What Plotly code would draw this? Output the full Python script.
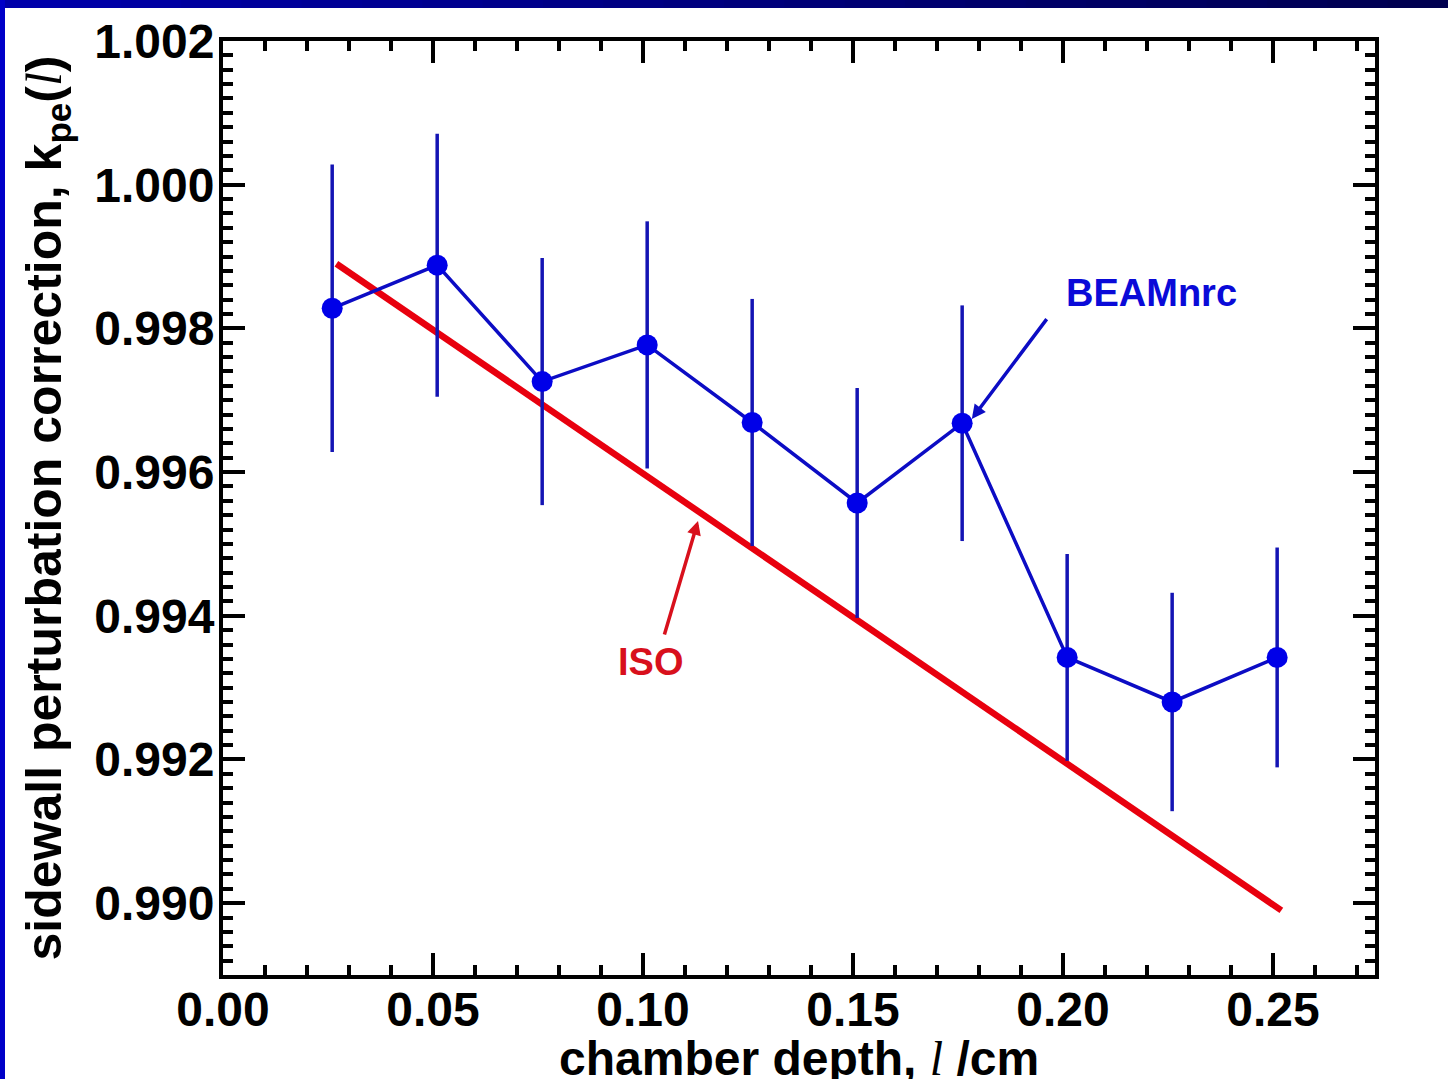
import plotly.graph_objects as go

# ---- data ----
depth_cm = [0.026, 0.051, 0.076, 0.101, 0.126, 0.151, 0.176, 0.201, 0.226, 0.251]
kpe_beamnrc = [0.99828, 0.99888, 0.99726, 0.99777, 0.99669, 0.99557, 0.99668, 0.99342, 0.99280, 0.99342]
kpe_err = [0.00200, 0.00183, 0.00172, 0.00172, 0.00172, 0.00160, 0.00164, 0.00144, 0.00152, 0.00153]

iso_depth = [0.027, 0.252]
iso_kpe = [0.99890, 0.98990]

x_tickvals = [0.00, 0.05, 0.10, 0.15, 0.20, 0.25]
x_ticktext = ["0.00", "0.05", "0.10", "0.15", "0.20", "0.25"]
y_tickvals = [0.990, 0.992, 0.994, 0.996, 0.998, 1.000, 1.002]
y_ticktext = ["0.990", "0.992", "0.994", "0.996", "0.998", "1.000", "1.002"]

W, H = 1448, 1079
ML, MR, MT, MB = 223, 73, 41, 104
PW, PH = W - ML - MR, H - MT - MB

FONT = "Liberation Sans, Arial, Helvetica, sans-serif"
ITAL_L = "<span style=\"font-family:Liberation Serif;font-style:italic;font-weight:normal\">l</span>"

fig = go.Figure()

fig.add_trace(go.Scatter(
    x=iso_depth, y=iso_kpe, mode="lines",
    line=dict(color="#e8000e", width=6.5),
    showlegend=False, hoverinfo="skip",
))

fig.add_trace(go.Scatter(
    x=depth_cm, y=kpe_beamnrc, mode="lines+markers",
    line=dict(color="#0c0cc4", width=3.5),
    marker=dict(color="#0000e8", size=21, line=dict(width=0)),
    error_y=dict(type="data", array=kpe_err, visible=True,
                 color="#1414b4", thickness=3.5, width=0),
    showlegend=False,
))

def px2x(px):
    return (px - ML) / PW

def py2y(py):
    return (H - MB - py) / PH

# slide frame: dark top band with gradient, blue left strip
n = 24
c0 = (0, 0, 170)
c1 = (0, 0, 80)
for i in range(n):
    t = i / (n - 1)
    col = "rgb(%d,%d,%d)" % tuple(round(a + (b - a) * t) for a, b in zip(c0, c1))
    fig.add_shape(type="rect", xref="paper", yref="paper",
                  x0=px2x(W * i / n), x1=px2x(W * (i + 1) / n + 1),
                  y0=py2y(8), y1=py2y(0), fillcolor=col, line=dict(width=0),
                  layer="above")
fig.add_shape(type="rect", xref="paper", yref="paper",
              x0=px2x(0), x1=px2x(5), y0=py2y(H), y1=py2y(0),
              fillcolor="rgb(0,0,200)", line=dict(width=0), layer="above")

# annotations
fig.add_annotation(x=0.2212, y=0.99849, text="<b>BEAMnrc</b>", showarrow=False,
                   font=dict(family=FONT, size=38, color="#0a0ad8"))
fig.add_annotation(x=0.1783, y=0.99674, ax=0.1964, ay=0.99815, axref="x", ayref="y",
                   text="", showarrow=True, arrowhead=2, arrowsize=0.8, arrowwidth=3.5,
                   arrowcolor="#0c0cc4")
fig.add_annotation(x=0.1019, y=0.99335, text="<b>ISO</b>", showarrow=False,
                   font=dict(family=FONT, size=38, color="#d8101c"))
fig.add_annotation(x=0.1131, y=0.99532, ax=0.1050, ay=0.99372, axref="x", ayref="y",
                   text="", showarrow=True, arrowhead=2, arrowsize=0.8, arrowwidth=3.5,
                   arrowcolor="#d8101c")

# x-axis title placed as a paper annotation (slightly clipped at the bottom, as in the reference)
fig.add_annotation(x=0.5, y=py2y(1058), xref="paper", yref="paper",
                   text="chamber depth, " + ITAL_L + " /cm", showarrow=False,
                   xanchor="center", yanchor="middle",
                   font=dict(family=FONT, size=48, color="black", weight="bold"))

axis_common = dict(
    showgrid=False, zeroline=False, showline=True, linecolor="black", linewidth=4,
    mirror="allticks", ticks="inside", tickcolor="black", tickwidth=3.5, ticklen=22,
    tickfont=dict(family=FONT, size=48, color="black", weight="bold"),
)

fig.update_xaxes(
    range=[0, 0.2743], tickmode="array", tickvals=x_tickvals, ticktext=x_ticktext,
    minor=dict(dtick=0.01, tick0=0, ticks="inside", ticklen=10, tickwidth=3.5, tickcolor="black"),
    ticklabelstandoff=-11,
    **axis_common,
)
fig.update_yaxes(
    range=[0.989, 1.002], tickmode="array", tickvals=y_tickvals, ticktext=y_ticktext,
    minor=dict(dtick=0.0002, tick0=0.990, ticks="inside", ticklen=10, tickwidth=3.5, tickcolor="black"),
    ticklabelstandoff=-5,
    title=dict(text="sidewall perturbation correction, k<sub>pe</sub>(" + ITAL_L + ")",
               font=dict(family=FONT, size=50, color="black", weight="bold"), standoff=18),
    **axis_common,
)

fig.update_layout(
    width=W, height=H, autosize=False,
    margin=dict(l=ML, r=MR, t=MT, b=MB, pad=0),
    paper_bgcolor="white", plot_bgcolor="white",
    showlegend=False,
)
fig.update_xaxes(automargin=False)
fig.update_yaxes(automargin=False)

fig.write_html("out.html", config={"displayModeBar": False},
               post_script="document.body.style.margin='0px';")
